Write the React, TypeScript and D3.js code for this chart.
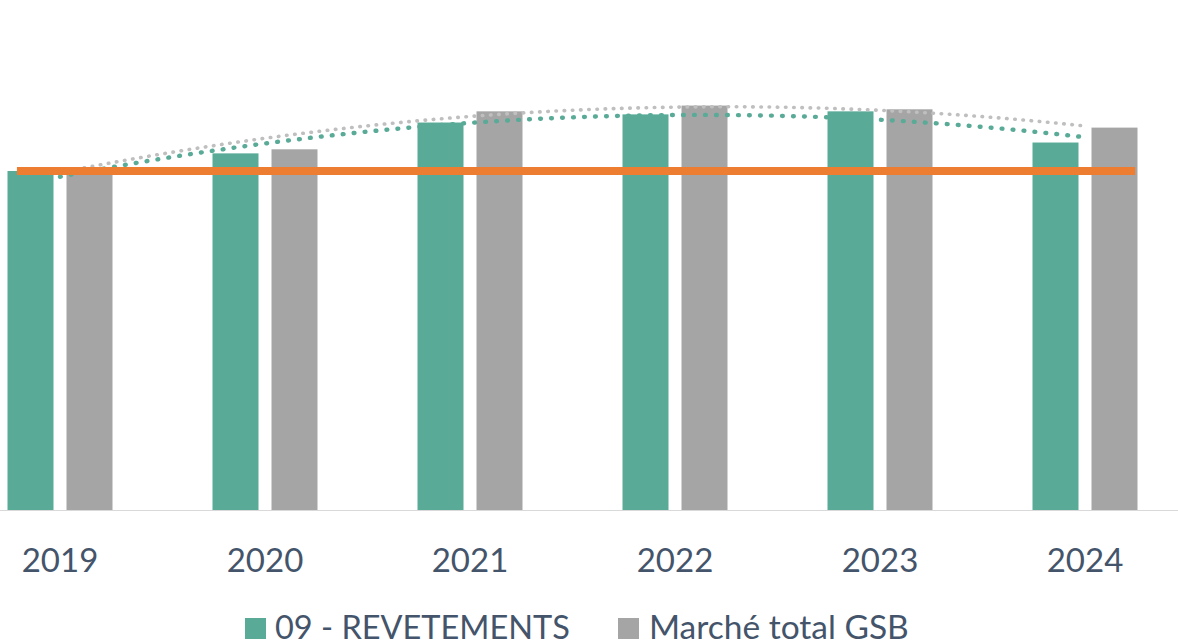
import React, { useEffect } from "react";
import * as d3 from "d3";

const years = ["2019", "2020", "2021", "2022", "2023", "2024"];
const revetements = [100, 105.2, 114.3, 116.7, 117.6, 108.4];
const marcheTotal = [101, 106.4, 117.6, 119.3, 118.2, 112.8];
const referenceValue = 100;
const seriesNames = ["09 - REVETEMENTS", "Marché total GSB"];

const W = 1178;
const H = 643;
const GREEN = "#59ab98";
const GREY = "#a5a5a5";
const GREY_TREND = "#bfbfbf";
const ORANGE = "#ed7d31";
const TEXT = "#44546a";
const FONT = "Lato, 'Open Sans', sans-serif";

function quadFit(vals: number[]) {
  const n = vals.length;
  // least squares fit y = a + b x + c x^2 (polynomial trendline, order 2)
  let s0 = n, s1 = 0, s2 = 0, s3 = 0, s4 = 0, t0 = 0, t1 = 0, t2 = 0;
  vals.forEach((v, x) => {
    s1 += x; s2 += x * x; s3 += x ** 3; s4 += x ** 4;
    t0 += v; t1 += x * v; t2 += x * x * v;
  });
  const M = [
    [s0, s1, s2, t0],
    [s1, s2, s3, t1],
    [s2, s3, s4, t2],
  ];
  for (let i = 0; i < 3; i++) {
    for (let k = i + 1; k < 3; k++) {
      const f = M[k][i] / M[i][i];
      for (let j = i; j < 4; j++) M[k][j] -= f * M[i][j];
    }
  }
  const c = M[2][3] / M[2][2];
  const b = (M[1][3] - M[1][2] * c) / M[1][1];
  const a = (M[0][3] - M[0][1] * b - M[0][2] * c) / M[0][0];
  return (x: number) => a + b * x + c * x * x;
}

export default function App() {
  useEffect(() => {
    document.body.style.margin = "0";
  }, []);

  const x0 = d3
    .scaleBand<string>()
    .domain(years)
    .range([-42.5, 1187.5])
    .paddingInner(100 / 205)
    .paddingOuter(50 / 205);
  const x1 = d3
    .scaleBand<string>()
    .domain(seriesNames)
    .range([0, x0.bandwidth()])
    .paddingInner(13 / 59);
  const y = d3.scaleLinear().domain([0, 100]).range([510, 171]);

  const center = (i: number) => (x0(years[i]) as number) + x0.bandwidth() / 2;
  const step = x0.step();
  const idxToX = d3.scaleLinear().domain([0, years.length - 1]).range([center(0), center(years.length - 1)]);

  const trendPath = (vals: number[]) => {
    const f = quadFit(vals);
    const pts = d3.range(0, years.length - 1 + 1e-9, 0.05).map((t) => [idxToX(t), y(f(t))] as [number, number]);
    return d3.line().curve(d3.curveLinear)(pts) as string;
  };

  const series = [
    { name: seriesNames[0], vals: revetements, color: GREEN },
    { name: seriesNames[1], vals: marcheTotal, color: GREY },
  ];

  return (
    <svg width={W} height={H} style={{ position: "absolute", left: 0, top: 0, background: "#fff" }}>
      <rect width={W} height={H} fill="#fff" />
      <line x1={0} x2={W} y1={510.5} y2={510.5} stroke="#d9d9d9" strokeWidth={1} />
      {series.map((s) =>
        years.map((yr, i) => (
          <rect
            key={s.name + yr}
            x={(x0(yr) as number) + (x1(s.name) as number)}
            y={y(s.vals[i])}
            width={x1.bandwidth()}
            height={y(0) - y(s.vals[i])}
            fill={s.color}
          />
        ))
      )}
      <path d={trendPath(marcheTotal)} fill="none" stroke={GREY_TREND} strokeWidth={3.6} strokeDasharray="0.5 7.7" strokeLinecap="round" />
      <path d={trendPath(revetements)} fill="none" stroke={GREEN} strokeWidth={4.4} strokeDasharray="0.8 10.2" strokeLinecap="round" />
      <line
        x1={center(0) - 0.21 * step}
        x2={center(years.length - 1) + 0.245 * step}
        y1={y(referenceValue)}
        y2={y(referenceValue)}
        stroke={ORANGE}
        strokeWidth={8}
      />
      {years.map((yr, i) => (
        <text key={yr} x={center(i)} y={572} textAnchor="middle" fontFamily={FONT} fontSize={33} fill={TEXT}>
          {yr}
        </text>
      ))}
      <g>
        <rect x={245} y={618} width={21} height={21} fill={GREEN} />
        <text x={275} y={639} fontFamily={FONT} fontSize={32.5} fill={TEXT}>
          {seriesNames[0]}
        </text>
        <rect x={618} y={618} width={21} height={21} fill={GREY} />
        <text x={649} y={639} fontFamily={FONT} fontSize={33.5} fill={TEXT}>
          {seriesNames[1]}
        </text>
      </g>
    </svg>
  );
}
